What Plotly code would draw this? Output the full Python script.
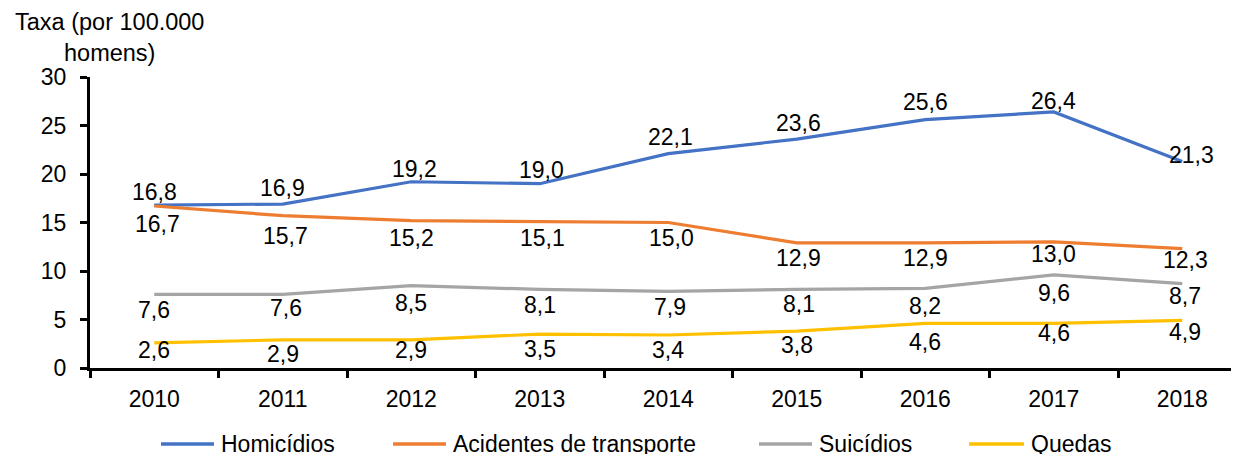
import plotly.graph_objects as go

# ---------------- data ----------------
years = ["2010", "2011", "2012", "2013", "2014", "2015", "2016", "2017", "2018"]
homicidios = [16.8, 16.9, 19.2, 19.0, 22.1, 23.6, 25.6, 26.4, 21.3]
acidentes = [16.7, 15.7, 15.2, 15.1, 15.0, 12.9, 12.9, 13.0, 12.3]
suicidios = [7.6, 7.6, 8.5, 8.1, 7.9, 8.1, 8.2, 9.6, 8.7]
quedas = [2.6, 2.9, 2.9, 3.5, 3.4, 3.8, 4.6, 4.6, 4.9]
series_names = ["Homicídios", "Acidentes de transporte", "Suicídios", "Quedas"]
y_ticks = [0, 5, 10, 15, 20, 25, 30]
y_title = "Taxa (por 100.000<br>homens)"

# ---------------- style ----------------
colors = ["#4472C4", "#ED7D31", "#A5A5A5", "#FFC000"]
FONT = "Liberation Sans, Arial, sans-serif"
# data-label pixel offsets (vertical / horizontal) per series
label_dy = [
    [13, 16, 13, 14, 17, 16, 18, 11, 6],
    [-18, -20, -17, -16, -15, -15, -15, -12, -11],
    [-16, -14, -17, -16, -16, -15, -18, -18, -12],
    [-7, -14, -10, -15, -15, -14, -19, -10, -12],
]
label_dx = [
    [0, 0, 3, 2, 2, 2, 0, 0, 9],
    [3, 3, 0, 3, 3, 2, 0, 0, 3],
    [0, 3, 0, 0, 2, 2, 0, 0, 3],
    [0, 0, 0, 0, 0, 0, 0, 0, 3],
]
# legend geometry (screen pixels)
legend_line_x = [(161, 214), (393, 446), (759, 812), (969, 1024)]
legend_y_px = 444

# page has an 8px body margin: size the figure so it fits the 1239x454 window
OFF = 8
SCREEN_W, SCREEN_H = 1239, 454
W, H = SCREEN_W - OFF, SCREEN_H - OFF
PLOT_LEFT, PLOT_TOP, PLOT_BOTTOM = 90, 77, 368
L = PLOT_LEFT - OFF
T = PLOT_TOP - OFF
plot_w = SCREEN_W - PLOT_LEFT
plot_h = PLOT_BOTTOM - PLOT_TOP
R = 0
B = H - T - plot_h


def px_x(px):
    return (px - PLOT_LEFT) / plot_w


def px_y(py):
    return (PLOT_BOTTOM - py) / plot_h


all_series = [homicidios, acidentes, suicidios, quedas]

fig = go.Figure()
for name, vals, col in zip(series_names, all_series, colors):
    fig.add_trace(go.Scatter(
        x=years, y=vals, mode="lines", name=name,
        line=dict(color=col, width=3.2),
        showlegend=False, hoverinfo="x+y+name",
    ))

annotations = []
for s, vals in enumerate(all_series):
    for i, v in enumerate(vals):
        annotations.append(dict(
            x=i, y=v, xref="x", yref="y",
            text=f"{v:.1f}".replace(".", ","),
            showarrow=False, xanchor="center", yanchor="middle",
            yshift=label_dy[s][i], xshift=label_dx[s][i],
            font=dict(family=FONT, size=23, color="#000000"),
        ))

# axis title
annotations.append(dict(
    x=px_x(109), y=px_y(37), xref="paper", yref="paper",
    text=y_title, showarrow=False, xanchor="center", yanchor="middle", align="center",
    font=dict(family=FONT, size=23.5, color="#000000"),
))

# custom legend
shapes = []
ly = px_y(legend_y_px)
for (x0, x1), name, col in zip(legend_line_x, series_names, colors):
    shapes.append(dict(
        type="line", xref="paper", yref="paper",
        x0=px_x(x0), x1=px_x(x1), y0=ly, y1=ly,
        line=dict(color=col, width=3.5),
    ))
    annotations.append(dict(
        x=px_x(x1 + 5), y=ly, xref="paper", yref="paper",
        text=name, showarrow=False, xanchor="left", yanchor="middle",
        font=dict(family=FONT, size=23, color="#000000"),
    ))

fig.update_layout(
    width=W, height=H,
    margin=dict(l=L, r=R, t=T, b=B, pad=0),
    paper_bgcolor="white", plot_bgcolor="white",
    font=dict(family=FONT, size=23, color="#000000"),
    separators=",.",
    annotations=annotations, shapes=shapes,
    showlegend=False,
)
fig.update_xaxes(
    type="category", range=[-0.5, -0.5 + plot_w / 128.5],
    showgrid=False, zeroline=False,
    showline=True, linecolor="#000000", linewidth=3,
    ticks="outside", tickson="boundaries", ticklen=7, tickwidth=3, tickcolor="#000000",
    tickfont=dict(family=FONT, size=23, color="#000000"),
    ticklabelstandoff=8,
)
fig.update_yaxes(
    range=[0, 30], tickvals=y_ticks, ticktext=[str(t) for t in y_ticks],
    showgrid=False, zeroline=False,
    showline=True, linecolor="#000000", linewidth=3,
    ticks="outside", ticklen=7, tickwidth=3, tickcolor="#000000",
    tickfont=dict(family=FONT, size=23, color="#000000"),
    ticklabelstandoff=9,
)

fig.write_html("out.html")
